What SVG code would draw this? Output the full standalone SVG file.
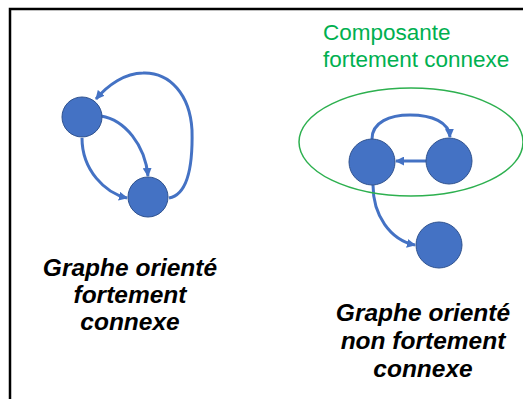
<svg xmlns="http://www.w3.org/2000/svg" width="523" height="399" viewBox="0 0 523 399">
<style>
.node{fill:#4472C4;stroke:#2F528F;stroke-width:1}
.edge{fill:none;stroke:#4472C4;stroke-width:3;marker-end:url(#arr)}
.lbl{font-family:"Liberation Sans",Arial,sans-serif;font-weight:bold;font-style:italic;font-size:24.5px;fill:#000;text-anchor:middle}
.grn{font-family:"Liberation Sans",Arial,sans-serif;font-size:22.5px;fill:#00B050}
</style>
<defs>
<marker id="arr" viewBox="0 0 10 10" refX="9" refY="5" markerWidth="9" markerHeight="9" markerUnits="userSpaceOnUse" orient="auto">
<path d="M0,0 L10,5 L0,10 z" fill="#4472C4"/>
</marker>
</defs>
<rect width="523" height="399" fill="#fff"/>
<path d="M10,399 V9 H523" fill="none" stroke="#000" stroke-width="2.5"/>
<g id="connectors">
<path class="edge" d="M101,116 C125,120 145,145 148,176"/>
<path class="edge" d="M82,138 C82,170 105,193 127,198"/>
<path class="edge" d="M169,198 C186,195 193,170 192,130 C190,95 170,72 143,73 C125,73 108,85 96,99"/>
<path class="edge" d="M372,139 C372,122 390,115 410,115 C432,115 449,122 450,137"/>
<path class="edge" d="M426,161 L396,161"/>
<path class="edge" d="M373,185 C373,215 390,240 415,245"/>
</g>
<g id="nA"><circle class="node" cx="82" cy="117" r="20"/></g>
<g id="nB"><circle class="node" cx="148" cy="197" r="20"/></g>
<g id="nC"><circle class="node" cx="372" cy="162" r="23"/></g>
<g id="nD"><circle class="node" cx="449" cy="161" r="23"/></g>
<g id="nE"><circle class="node" cx="439" cy="245" r="23"/></g>
<g id="scc">
<ellipse cx="411" cy="142" rx="112" ry="54" fill="none" stroke="#2DB04F" stroke-width="1.5"/>
<text class="grn" x="323" y="40">Composante</text>
<text class="grn" x="323" y="66.5">fortement connexe</text>
</g>
<g id="label-left">
<text class="lbl" x="130" y="276">Graphe orienté</text>
<text class="lbl" x="130" y="303">fortement</text>
<text class="lbl" x="130" y="330">connexe</text>
</g>
<g id="label-right">
<text class="lbl" x="423" y="321">Graphe orienté</text>
<text class="lbl" x="423" y="349">non fortement</text>
<text class="lbl" x="423" y="377">connexe</text>
</g>
</svg>
